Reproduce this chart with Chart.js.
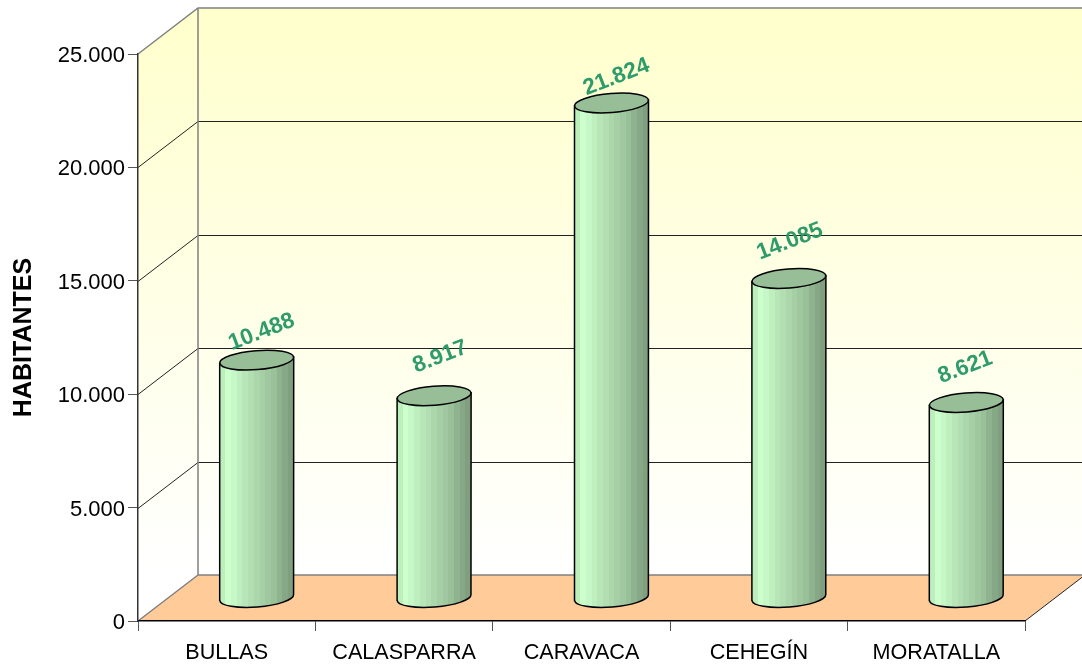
<!DOCTYPE html>
<html lang="es">
<head>
    <meta charset="UTF-8">
    <title>Habitantes por municipio</title>
    <script src="https://cdn.jsdelivr.net/npm/chart.js"></script>
    <style>
        html, body { margin: 0; padding: 0; background: #fff; }
        canvas { display: block; }
    </style>
</head>
<body>
<canvas id="habitantesChart" width="1082" height="668"></canvas>

<script>
    // Data
    const municipios = ['BULLAS', 'CALASPARRA', 'CARAVACA', 'CEHEGÍN', 'MORATALLA'];
    const habitantes = [10488, 8917, 21824, 14085, 8621];
    const etiquetas = ['10.488', '8.917', '21.824', '14.085', '8.621'];
    const tickValues = [0, 5000, 10000, 15000, 20000, 25000];
    const tickLabels = ['0', '5.000', '10.000', '15.000', '20.000', '25.000'];

    // Fake 3D depth: the back wall sits this far from the front plane
    const DEPTH_X = 60;
    const DEPTH_Y = -46;
    const RX = 37, RY = 9.5, TILT = -0.08;
    const FONT = '"Liberation Sans", Arial, sans-serif';

    // Small label shifts from the top of each cylinder
    const labelShift = [[5, -28], [6, -39], [5, -26], [1, -37], [-1, -35]];
    // Vertical colour bands of the cylinder, left to right
    const bands = ['#BDEFBD', '#CCFFCC', '#C6F7C6', '#BFEEBF', '#B8E6B8', '#B2DEB2', '#ACD6AC',
        '#A6CFA6', '#A0C8A0', '#9AC09A', '#8FB38F', '#86A886', '#7F9F7F'];

    const walls = {
        id: 'walls',
        beforeDraw(chart) {
            const { ctx, chartArea: a, scales: { y } } = chart;
            const bx = a.left + DEPTH_X, by = a.bottom + DEPTH_Y, tby = a.top + DEPTH_Y;
            const rightBack = a.right + DEPTH_X;

            const g = ctx.createLinearGradient(0, tby, 0, by);
            g.addColorStop(0, '#FFFFCC');
            g.addColorStop(1, '#FFFFFF');
            ctx.save();
            ctx.fillStyle = g;
            ctx.fillRect(bx, tby, rightBack - bx, by - tby);

            // left side wall
            ctx.beginPath();
            ctx.moveTo(a.left, a.top);
            ctx.lineTo(bx, tby);
            ctx.lineTo(bx, by);
            ctx.lineTo(a.left, a.bottom);
            ctx.closePath();
            ctx.fill();

            // floor
            ctx.fillStyle = '#FFCC99';
            ctx.beginPath();
            ctx.moveTo(a.left, a.bottom);
            ctx.lineTo(bx, by);
            ctx.lineTo(rightBack, by);
            ctx.lineTo(a.right, a.bottom);
            ctx.closePath();
            ctx.fill();

            // grid lines on the walls
            ctx.lineWidth = 1;
            ctx.strokeStyle = '#222';
            tickValues.slice(1, -1).forEach(v => {
                const py = Math.round(y.getPixelForValue(v)) + 0.5;
                ctx.beginPath();
                ctx.moveTo(a.left, py);
                ctx.lineTo(bx, py + DEPTH_Y);
                ctx.lineTo(rightBack, py + DEPTH_Y);
                ctx.stroke();
            });

            // right floor edge
            ctx.beginPath();
            ctx.moveTo(a.right, a.bottom);
            ctx.lineTo(rightBack, by);
            ctx.stroke();

            // wall outline
            ctx.strokeStyle = '#808080';
            ctx.lineWidth = 1.5;
            ctx.beginPath();
            ctx.moveTo(a.left, a.top);
            ctx.lineTo(bx, tby);
            ctx.lineTo(rightBack, tby);
            ctx.moveTo(bx, tby);
            ctx.lineTo(bx, by);
            ctx.lineTo(rightBack, by);
            ctx.moveTo(bx, by);
            ctx.lineTo(a.left, a.bottom);
            ctx.stroke();
            ctx.restore();
        }
    };

    function cylinderFill(ctx, left, w) {
        const g = ctx.createLinearGradient(left, 0, left + w, 0);
        bands.forEach((c, i) => {
            g.addColorStop(i / bands.length, c);
            g.addColorStop((i + 1) / bands.length, c);
        });
        return g;
    }

    // Cylinders take their place from the library's bar elements
    const cylinders = {
        id: 'cylinders',
        beforeDatasetDraw(chart, args) {
            const { ctx } = chart;
            const dx = Math.sin(TILT) * RX;
            ctx.save();
            ctx.translate(DEPTH_X / 2, DEPTH_Y / 2);
            ctx.lineWidth = 1.5;
            ctx.strokeStyle = '#000';
            args.meta.data.forEach(bar => {
                const { x, y, base } = bar.getProps(['x', 'y', 'base'], true);
                const xl = x - RX, xr = x + RX;
                ctx.beginPath();
                ctx.moveTo(xl, y - dx);
                ctx.lineTo(xl, base - dx);
                ctx.ellipse(x, base, RX, RY, TILT, Math.PI, 0, true);
                ctx.lineTo(xr, y + dx);
                ctx.closePath();
                ctx.fillStyle = cylinderFill(ctx, xl, RX * 2);
                ctx.fill();
                ctx.stroke();

                ctx.beginPath();
                ctx.ellipse(x, y, RX, RY, TILT, 0, Math.PI * 2);
                ctx.fillStyle = '#97BE97';
                ctx.fill();
                ctx.stroke();
            });
            ctx.restore();
            return false;
        },
        afterDatasetsDraw(chart) {
            const { ctx } = chart;
            const meta = chart.getDatasetMeta(0);
            ctx.save();
            ctx.fillStyle = '#2E9B6B';
            ctx.font = 'bold 22.5px ' + FONT;
            ctx.textAlign = 'center';
            ctx.textBaseline = 'middle';
            meta.data.forEach((bar, i) => {
                ctx.save();
                ctx.translate(bar.x + DEPTH_X / 2 + labelShift[i][0], bar.y + DEPTH_Y / 2 + labelShift[i][1]);
                ctx.rotate(-21 * Math.PI / 180);
                ctx.fillText(etiquetas[i], 0, 0);
                ctx.restore();
            });
            ctx.restore();
        }
    };

    new Chart(document.getElementById('habitantesChart'), {
        type: 'bar',
        data: {
            labels: municipios,
            datasets: [{
                label: 'HABITANTES',
                data: habitantes,
                backgroundColor: '#AFD9AF',
                borderColor: '#000',
                barThickness: 74
            }]
        },
        plugins: [walls, cylinders],
        options: {
            responsive: false,
            animation: false,
            layout: { padding: { top: 54, right: 57, left: 0, bottom: 0 } },
            plugins: { legend: { display: false }, tooltip: { enabled: false } },
            scales: {
                x: {
                    afterFit(scale) { scale.height = 47; },
                    grid: { drawOnChartArea: false, color: '#555', tickLength: 10 },
                    border: { color: '#000', width: 1.5 },
                    ticks: { color: '#000', font: { family: FONT, size: 21.6 }, maxRotation: 0, autoSkip: false, padding: 9 }
                },
                y: {
                    min: 0,
                    max: 25000,
                    afterFit(scale) { scale.width = 138; },
                    afterBuildTicks(scale) { scale.ticks = tickValues.map(v => ({ value: v })); },
                    grid: { drawOnChartArea: false, color: '#555', tickLength: 10 },
                    border: { color: '#333', width: 1.5 },
                    title: {
                        display: true,
                        text: 'HABITANTES',
                        color: '#000',
                        font: { family: FONT, size: 25, weight: 'bold' },
                        padding: { top: 9, bottom: 0 }
                    },
                    ticks: {
                        color: '#000',
                        font: { family: FONT, size: 22 },
                        padding: 3,
                        labelOffset: 2,
                        callback: (v, i) => tickLabels[i]
                    }
                }
            }
        }
    });
</script>
</body>
</html>
